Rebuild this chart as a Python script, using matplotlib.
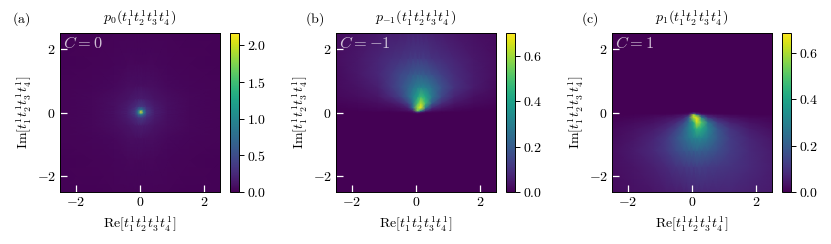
import matplotlib
matplotlib.use("Agg")
import matplotlib.pyplot as plt
import numpy as np

plt.rcParams['mathtext.fontset'] = 'cm'
plt.rcParams['font.family'] = ['cmr10', 'DejaVu Serif']
plt.rcParams['axes.formatter.use_mathtext'] = True
plt.rcParams['axes.linewidth'] = 0.7

W, H = 831, 244

# panel (a), C = 0
xa = [-2.5, -1.5, -0.8, -0.4, -0.15, -0.05, 0.03, 0.11, 0.21, 0.46, 0.86, 1.56, 2.5]
ya = [-2.5, -1.5, -0.8, -0.4, -0.15, -0.05, 0.02, 0.09, 0.19, 0.44, 0.84, 1.54, 2.5]
pa = [
    [.01, .015, .02, .025, .025, .025, .025, .025, .025, .025, .02, .015, .01],
    [.015, .02, .03, .035, .04, .04, .04, .04, .04, .035, .03, .02, .015],
    [.02, .03, .05, .07, .08, .08, .085, .08, .08, .07, .05, .03, .02],
    [.025, .035, .07, .11, .15, .16, .17, .16, .15, .11, .07, .035, .025],
    [.025, .04, .08, .15, .26, .34, .38, .34, .26, .15, .08, .04, .025],
    [.025, .04, .08, .16, .34, .70, 1.00, .70, .34, .16, .08, .04, .025],
    [.025, .04, .085, .17, .38, 1.00, 2.17, 1.00, .38, .17, .085, .04, .025],
    [.025, .04, .08, .16, .34, .70, 1.00, .70, .34, .16, .08, .04, .025],
    [.025, .04, .08, .15, .26, .34, .38, .34, .26, .15, .08, .04, .025],
    [.025, .035, .07, .11, .15, .16, .17, .16, .15, .11, .07, .035, .025],
    [.02, .03, .05, .07, .08, .08, .085, .08, .08, .07, .05, .03, .02],
    [.015, .02, .03, .035, .04, .04, .04, .04, .04, .035, .03, .02, .015],
    [.01, .015, .02, .025, .025, .025, .025, .025, .025, .025, .02, .015, .01],
]

# panel (b), C = -1
xb = [-2.5, -1.8, -1.2, -0.8, -0.5, -0.25, -0.1, 0.05, 0.15, 0.3, 0.5, 0.8, 1.2, 1.8, 2.5]
yb = [-2.5, -0.03, 0.02, 0.06, 0.15, 0.3, 0.5, 0.8, 1.2, 1.7, 2.5]
pb = [
    [0] * 15,
    [0] * 15,
    [0, 0, 0, .005, .005, .01, .02, .12, .05, .015, .01, .005, 0, 0, 0],
    [.0, .005, .01, .01, .02, .03, .05, .55, .35, .08, .03, .02, .01, .005, .0],
    [.005, .01, .015, .02, .03, .06, .22, .60, .68, .28, .08, .04, .02, .01, .005],
    [.01, .015, .025, .04, .07, .14, .27, .50, .62, .47, .20, .09, .04, .02, .01],
    [.015, .025, .04, .08, .13, .22, .31, .40, .48, .42, .28, .15, .07, .03, .015],
    [.02, .035, .06, .11, .16, .22, .26, .30, .31, .30, .25, .17, .10, .05, .02],
    [.02, .045, .075, .11, .15, .17, .19, .20, .20, .19, .17, .13, .09, .05, .025],
    [.025, .045, .07, .09, .10, .11, .12, .12, .12, .115, .10, .09, .07, .045, .025],
    [.02, .035, .045, .055, .06, .065, .065, .065, .065, .065, .06, .05, .04, .03, .02],
]

# panel (c), C = 1
xc = [-2.5, -1.8, -1.2, -0.8, -0.5, -0.25, -0.1, 0.05, 0.15, 0.3, 0.5, 0.8, 1.2, 1.8, 2.5]
yc = [-2.5, -1.7, -1.2, -0.8, -0.5, -0.3, -0.15, -0.06, -0.02, 0.03, 2.5]
pc = [
    [.02, .03, .04, .05, .055, .06, .065, .065, .07, .07, .07, .07, .07, .06, .05],
    [.025, .04, .06, .08, .10, .11, .12, .12, .125, .125, .12, .11, .10, .08, .055],
    [.025, .05, .08, .11, .15, .18, .19, .20, .21, .20, .19, .16, .12, .08, .05],
    [.02, .04, .07, .11, .17, .23, .27, .30, .31, .31, .27, .19, .12, .07, .04],
    [.015, .03, .05, .08, .13, .21, .29, .37, .46, .42, .31, .18, .10, .05, .025],
    [.01, .02, .03, .05, .08, .15, .25, .42, .64, .50, .26, .12, .06, .03, .015],
    [.005, .01, .02, .03, .04, .07, .20, .62, .66, .30, .10, .05, .03, .015, .01],
    [.0, .005, .01, .01, .02, .03, .05, .60, .32, .07, .03, .02, .01, .005, .0],
    [0, 0, 0, .005, .005, .01, .02, .12, .05, .015, .01, .005, 0, 0, 0],
    [0] * 15,
    [0] * 15,
]

xs = [xa, xb, xc]
ys = [ya, yb, yc]
ps = [pa, pb, pc]
vmaxs = [2.17, 0.70, 0.685]
cbar_ticks = [[0, 0.5, 1.0, 1.5, 2.0], [0, 0.2, 0.4, 0.6], [0, 0.2, 0.4, 0.6]]
titles = [r'$p_0(t_1^1t_2^1t_3^1t_4^1)$', r'$p_{-1}(t_1^1t_2^1t_3^1t_4^1)$', r'$p_1(t_1^1t_2^1t_3^1t_4^1)$']
c_labels = [r'$C=0$', r'$C=-1$', r'$C=1$']
panel_labels = [r'$\mathrm{(a)}$', r'$\mathrm{(b)}$', r'$\mathrm{(c)}$']
ticks = [-2, 0, 2]
tick_labels = ['$-2$', '$0$', '$2$']

ax_left = [60, 336, 612]
cb_left = [230, 506, 782]
label_x = [12, 305, 581]
top, bottom = 33, 192
fs = 10

fig = plt.figure(figsize=(W / 100, H / 100), dpi=100)

for i in range(3):
    ax = fig.add_axes([ax_left[i] / W, 1 - bottom / H, 160 / W, (bottom - top) / H])
    m = ax.pcolormesh(xs[i], ys[i], np.array(ps[i]), shading='gouraud', cmap='viridis',
                      vmin=0, vmax=vmaxs[i], rasterized=True)
    ax.set_xlim(-2.5, 2.5)
    ax.set_ylim(-2.5, 2.5)
    ax.set_xticks(ticks, tick_labels, fontsize=fs)
    ax.set_yticks(ticks, tick_labels, fontsize=fs)
    ax.tick_params(direction='in', color='white', length=5, width=0.9, pad=3)
    ax.set_xlabel(r'$\mathrm{Re}[t_1^1t_2^1t_3^1t_4^1]$', fontsize=fs, labelpad=4)
    ax.set_ylabel(r'$\mathrm{Im}[t_1^1t_2^1t_3^1t_4^1]$', fontsize=fs, labelpad=2)
    ax.set_title(titles[i], fontsize=fs, pad=8)
    ax.text(0.02, 0.985, c_labels[i], transform=ax.transAxes, color='white', alpha=0.75,
            fontsize=11.8, va='top', ha='left')
    fig.text(label_x[i] / W, 1 - 19 / H, panel_labels[i], fontsize=fs, va='center', ha='left')

    cax = fig.add_axes([cb_left[i] / W, 1 - bottom / H, 9 / W, (bottom - top) / H])
    cb = fig.colorbar(m, cax=cax)
    cb.set_ticks(cbar_ticks[i])
    cb.ax.tick_params(labelsize=fs, length=3.5, width=0.7, pad=2)
    cb.outline.set_linewidth(0.7)

fig.savefig('out.png', dpi=100)
